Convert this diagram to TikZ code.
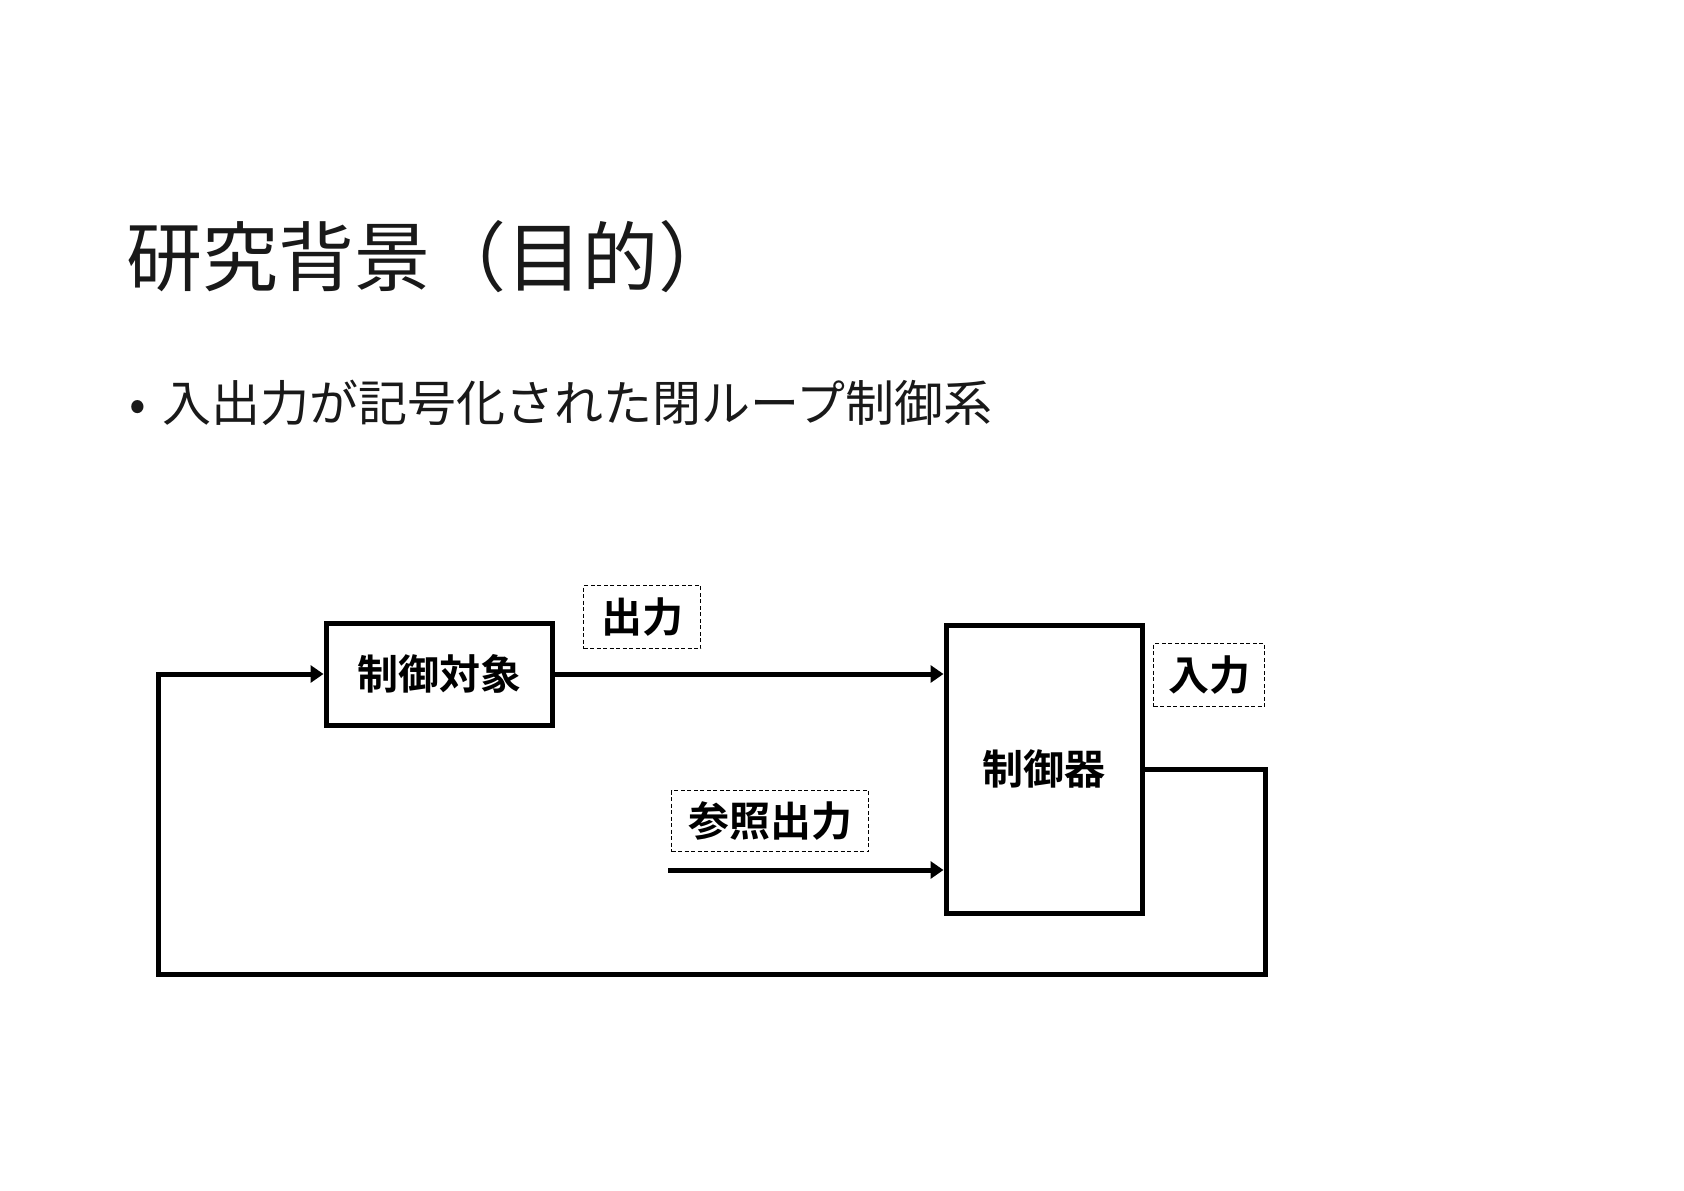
\documentclass[tikz,border=0pt]{standalone}
\usepackage{fontspec}
\usetikzlibrary{arrows.meta}
\newfontfamily\jp[BoldFont={Noto Sans CJK JP Bold}]{Noto Sans CJK JP}
\begin{document}
\begin{tikzpicture}[x=1pt,y=-1pt,
  box/.style={draw, line width=5pt, inner sep=0pt, font=\jp\bfseries\fontsize{41}{48}\selectfont},
  lbl/.style={draw, dashed, line width=1.2pt, dash pattern=on 4pt off 2.5pt, inner sep=0pt, font=\jp\bfseries\fontsize{41}{48}\selectfont},
  arr/.style={line width=5pt, -{Triangle[length=13pt,width=17pt]}}]
\useasboundingbox[fill=white] (0,0) rectangle (1684,1191);
\node[anchor=west, font=\jp\fontsize{76}{90}\selectfont, text=black!90] (title) at (123,257) {研究背景（目的）};
\node[anchor=west, font=\jp\fontsize{49}{60}\selectfont, text=black!90] (bullet) at (126,403) {•\hspace{16pt}入出力が記号化された閉ループ制御系};
\node[box, minimum width=226, minimum height=102] (plant) at (439,674) {制御対象};
\node[box, minimum width=196, minimum height=288] (ctrl) at (1044,769) {制御器};
\node[lbl, minimum width=117, minimum height=63] (out) at (642,617) {出力};
\node[lbl, minimum width=111, minimum height=63] (in) at (1209,675) {入力};
\node[lbl, minimum width=197, minimum height=61] (ref) at (770,821) {参照出力};
\draw[arr] (plant.east) -- (ctrl.west |- plant.east);
\coordinate (refstart) at (668,870);
\draw[arr] (refstart) -- (ctrl.west |- refstart);
\coordinate (c1) at (1265,974);
\coordinate (c2) at (158,974);
\draw[arr] (ctrl.east) -| (c1) -- (c2) |- (plant.west);
\end{tikzpicture}
\end{document}
